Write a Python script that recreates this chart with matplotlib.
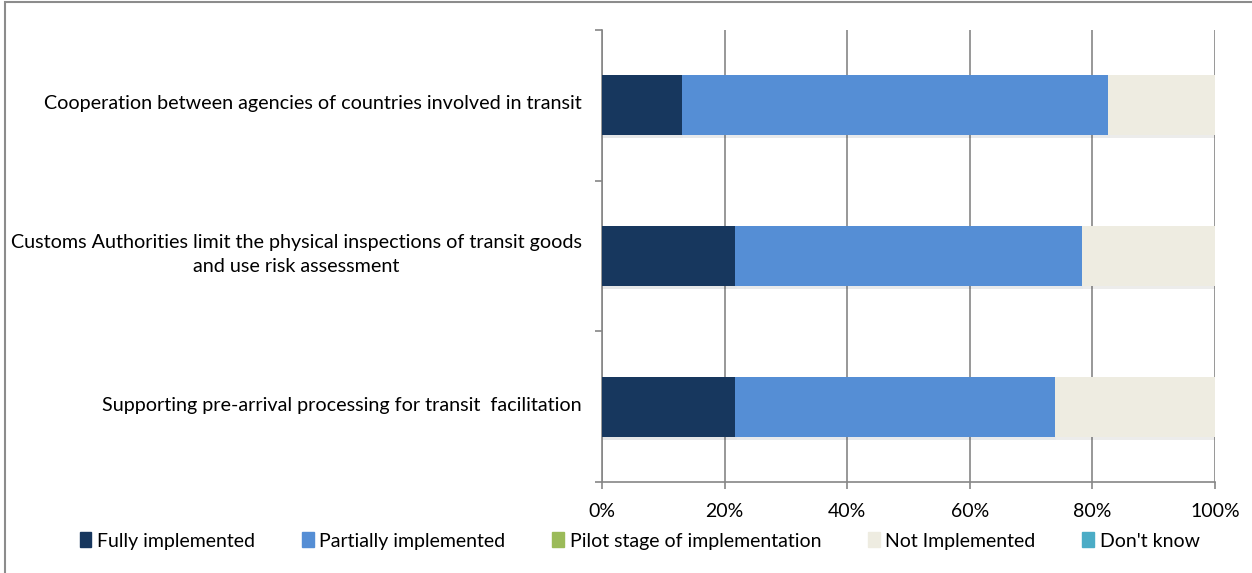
import matplotlib.pyplot as plt
import matplotlib.patches as mpatches
import matplotlib.patheffects as pe
import matplotlib.transforms as mtransforms
from matplotlib.ticker import PercentFormatter

plt.rcParams['font.family'] = ['Lato', 'DejaVu Sans']

categories = ['Supporting pre-arrival processing for transit  facilitation',
              'Customs Authorities limit the physical inspections of transit goods\nand use risk assessment',
              'Cooperation between agencies of countries involved in transit']
series = ['Fully implemented', 'Partially implemented', 'Pilot stage of implementation',
          'Not Implemented', "Don't know"]
fully = [21.74, 21.74, 13.04]
partially = [52.17, 56.52, 69.57]
pilot = [0, 0, 0]
not_impl = [26.09, 21.74, 17.39]
dont_know = [0, 0, 0]
colors = ['#17375E', '#558ED5', '#9BBB59', '#EEECE1', '#4BACC6']

fig = plt.figure(figsize=(12.52, 5.73), dpi=100)
ax = fig.add_axes([602 / 1252, 1 - 482 / 573, 613 / 1252, 452 / 573])

# outer frame of the chart area
fig.patches.append(mpatches.Rectangle((5 / 1252, -0.05), 1.1, 1 - 1.5 / 573 + 0.05,
                                      transform=fig.transFigure, fill=False,
                                      edgecolor='#8c8c8c', linewidth=1.5))

ypos = range(len(categories))
left = [0] * len(categories)
shadow = [pe.SimplePatchShadow(offset=(1, -2), alpha=0.1), pe.Normal()]
for name, vals, col in zip(series, [fully, partially, pilot, not_impl, dont_know], colors):
    bars = ax.barh(ypos, vals, left=left, height=0.4, color=col, label=name, zorder=3)
    for b in bars:
        b.set_path_effects(shadow)
    left = [l + v for l, v in zip(left, vals)]

ax.set_xlim(0, 100)
ax.set_ylim(-0.5, 2.5)
ax.set_xticks(range(0, 101, 20))
ax.xaxis.set_major_formatter(PercentFormatter(decimals=0))
ax.set_yticks([-0.5, 0.5, 1.5, 2.5])
ax.set_yticklabels([])
ax.tick_params(axis='y', length=5, color='#868686', width=1.2)
ax.tick_params(axis='x', length=5, color='#868686', width=1.2, labelsize=14, pad=10)

# category labels, right-aligned just left of the axis
trans = mtransforms.blended_transform_factory(fig.transFigure, ax.transData)
for y, label in zip(ypos, categories):
    ax.text(582 / 1252, y + 0.01, label, transform=trans, ha='right', va='center',
            multialignment='center', fontsize=14.2, linespacing=1.5)

ax.grid(axis='x', color='#868686', linewidth=1.2, zorder=0)
ax.set_axisbelow(True)
for s in ['top', 'right']:
    ax.spines[s].set_visible(False)
for s in ['left', 'bottom']:
    ax.spines[s].set_color('#868686')
    ax.spines[s].set_linewidth(1.2)

handles = [mpatches.Patch(color=c) for c in colors]
fig.legend(handles, series, loc='center', bbox_to_anchor=(0.511, 1 - 541 / 573), ncol=5,
           frameon=False, fontsize=14, handlelength=0.6, handleheight=0.8,
           handletextpad=0.3, columnspacing=2.4)

fig.savefig('out.png', dpi=100)
